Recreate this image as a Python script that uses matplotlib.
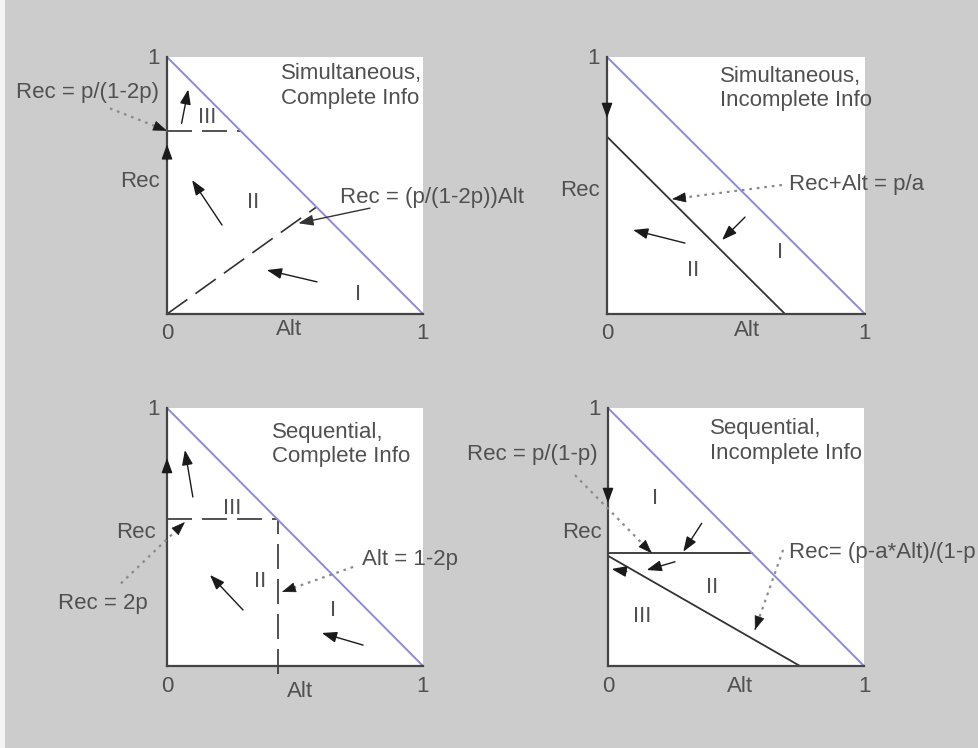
import matplotlib
matplotlib.use("Agg")
import matplotlib.pyplot as plt
from matplotlib.patches import Rectangle

plt.rcParams['font.family'] = ['Liberation Sans', 'DejaVu Sans']

BG = '#cccccc'
TXT = '#505050'
BLUE = '#8a8ae0'
DARK = '#333333'
DOT = '#8a8a8a'
FS = 16

# ---------------- data ----------------
titles = ["Simultaneous,\nComplete Info", "Simultaneous,\nIncomplete Info",
          "Sequential,\nComplete Info", "Sequential,\nIncomplete Info"]
budget_line_x = [0, 1]
budget_line_y = [1, 0]

# panel 1 (simultaneous, complete)
p1_level = 0.713          # Rec = p/(1-2p)
p1_slope = 0.713          # Rec = (p/(1-2p)) Alt
# panel 2 (simultaneous, incomplete)
p2_sum = 0.69             # Rec + Alt = p/a
# panel 3 (sequential, complete)
p3_rec = 0.57             # Rec = 2p
p3_alt = 0.435            # Alt = 1-2p
# panel 4 (sequential, incomplete)
p4_level = 0.437          # Rec = p/(1-p)
p4_start = 0.427          # Rec-intercept of Rec = (p - a*Alt)/(1-p)
p4_zero = 0.75            # Alt-intercept (p/a)

# motion arrows: (tail, tip) per panel
arrows1 = [((0, 0.60), (0, 0.66)), ((0.057, 0.742), (0.083, 0.874)),
           ((0.215, 0.346), (0.098, 0.521)), ((0.586, 0.125), (0.39, 0.171))]
arrows2 = [((0, 0.81), (0, 0.763)), ((0.302, 0.276), (0.101, 0.327)),
           ((0.535, 0.377), (0.446, 0.288))]
arrows3 = [((0, 0.75), (0, 0.806)), ((0.101, 0.655), (0.07, 0.837)),
           ((0.297, 0.217), (0.168, 0.353)), ((0.766, 0.081), (0.605, 0.128))]
arrows4 = [((0, 0.68), (0, 0.632)), ((0.366, 0.553), (0.294, 0.443)),
           ((0.262, 0.404), (0.151, 0.372)), ((0.073, 0.366), (0.014, 0.376))]

# labelled pointers: (text, text position, alignment, line tail, arrow tip, style)
notes1 = [("Rec = p/(1-2p)", (-0.3125, 0.86), 'center', (-0.223, 0.80), (0.0, 0.713), 'dot'),
          ("Rec = (p/(1-2p))Alt", (0.676, 0.455), 'left', (0.793, 0.412), (0.513, 0.353), 'solid')]
notes2 = [("Rec+Alt = p/a", (0.705, 0.502), 'left', (0.678, 0.502), (0.252, 0.447), 'dot')]
notes3 = [("Rec = 2p", (-0.25, 0.244), 'center', (-0.18, 0.32), (0.07, 0.558), 'dot'),
          ("Alt = 1-2p", (0.762, 0.411), 'left', (0.727, 0.384), (0.449, 0.287), 'dot')]
notes4 = [("Rec = p/(1-p)", (-0.297, 0.818), 'center', (-0.129, 0.74), (0.171, 0.437), 'dot'),
          ("Rec= (p-a*Alt)/(1-p", (0.706, 0.438), 'left', (0.684, 0.45), (0.574, 0.14), 'dot')]

regions1 = [("III", 0.156, 0.763), ("II", 0.337, 0.432), ("I", 0.747, 0.074)]
regions2 = [("I", 0.671, 0.241), ("II", 0.333, 0.171)]
regions3 = [("III", 0.254, 0.612), ("II", 0.363, 0.326), ("I", 0.65, 0.217)]
regions4 = [("I", 0.184, 0.651), ("II", 0.406, 0.306), ("III", 0.133, 0.19)]

title_pos = [(0.445, 0.975), (0.438, 0.965), (0.41, 0.945), (0.398, 0.96)]
rec_pos = [(-0.105, 0.514), (-0.105, 0.482), (-0.121, 0.519), (-0.10, 0.519)]
alt_pos = [(0.477, -0.062), (0.543, -0.066), (0.52, -0.10), (0.516, -0.078)]

# ---------------- figure ----------------
fig = plt.figure(figsize=(9.79, 7.48), dpi=100, facecolor=BG)
W, H = 979, 748
fig.patches.append(Rectangle((0, 0), 5 / W, 1, transform=fig.transFigure,
                             facecolor='#f4f4f4', edgecolor='none', zorder=-1))
boxes = [(167, 57, 256, 257), (607, 57, 258, 257), (167, 408, 256, 258), (608, 408, 256, 258)]
axes = []
for (x, y, w, h) in boxes:
    ax = fig.add_axes([x / W, 1 - (y + h) / H, w / W, h / H])
    ax.set_xlim(0, 1)
    ax.set_ylim(0, 1)
    ax.set_facecolor('white')
    for s in ['top', 'right']:
        ax.spines[s].set_visible(False)
    for s in ['left', 'bottom']:
        ax.spines[s].set_color('#444444')
        ax.spines[s].set_linewidth(1.6)
    ax.set_xticks([])
    ax.set_yticks([])
    axes.append(ax)

ah = dict(arrowstyle='-|>,head_length=0.6,head_width=0.22', color='#1a1a1a',
          lw=1.0, shrinkA=0, shrinkB=0, mutation_scale=15)


def common(ax, i, arrows, notes, regions):
    ax.plot(budget_line_x, budget_line_y, color=BLUE, lw=1.4, zorder=2)
    tx, ty = title_pos[i]
    ax.text(tx, ty, titles[i], ha='left', va='top', fontsize=FS, color=TXT,
            linespacing=1.2)
    ax.text(*rec_pos[i], "Rec", ha='center', va='center', fontsize=FS, color=TXT, clip_on=False)
    ax.text(*alt_pos[i], "Alt", ha='center', va='center', fontsize=FS, color=TXT, clip_on=False)
    yb = -0.074 if i < 2 else -0.081
    ax.text(0, yb, "0", ha='center', va='center', fontsize=FS, color=TXT, clip_on=False)
    ax.text(1, yb, "1", ha='center', va='center', fontsize=FS, color=TXT, clip_on=False)
    ax.text(-0.053, 0.995, "1", ha='center', va='center', fontsize=FS, color=TXT, clip_on=False)
    for (tail, tip) in arrows:
        ax.annotate('', xy=tip, xytext=tail, arrowprops=ah, annotation_clip=False)
    for (t, pos, ha, tail, tip, st) in notes:
        ax.text(pos[0], pos[1], t, ha=ha, va='center', fontsize=FS, color=TXT, clip_on=False)
        if st == 'dot':
            ax.plot([tail[0], tip[0]], [tail[1], tip[1]], color=DOT, lw=1.6,
                    linestyle=(0, (1.2, 2.2)), clip_on=False, zorder=3)
            ax.annotate('', xy=tip, xytext=(tip[0] - (tip[0] - tail[0]) * 0.06,
                                            tip[1] - (tip[1] - tail[1]) * 0.06),
                        arrowprops=dict(ah, lw=0.5), annotation_clip=False)
        else:
            ax.annotate('', xy=tip, xytext=tail, arrowprops=dict(ah, color='#333333'),
                        annotation_clip=False)
    for (t, x, y) in regions:
        ax.text(x, y, t, ha='center', va='center', fontsize=FS, color=TXT)


dash = (0, (15, 6))

# panel 1
ax = axes[0]
ax.plot([0, 1 - p1_level], [p1_level, p1_level], color=DARK, lw=1.2, linestyle=dash)
xe = 1 / (1 + p1_slope)
ax.plot([0, xe], [0, p1_slope * xe], color=DARK, lw=1.2, linestyle=dash)
common(ax, 0, arrows1, notes1, regions1)

# panel 2
ax = axes[1]
ax.plot([0, p2_sum], [p2_sum, 0], color=DARK, lw=1.3)
common(ax, 1, arrows2, notes2, regions2)

# panel 3
ax = axes[2]
ax.plot([0, 1 - p3_rec], [p3_rec, p3_rec], color=DARK, lw=1.2, linestyle=dash)
ax.plot([p3_alt, p3_alt], [-0.03, 1 - p3_alt], color=DARK, lw=1.2, linestyle=dash, clip_on=False)
common(ax, 2, arrows3, notes3, regions3)

# panel 4
ax = axes[3]
ax.plot([0, 1 - p4_level], [p4_level, p4_level], color=DARK, lw=1.3)
ax.plot([0, p4_zero], [p4_start, 0], color=DARK, lw=1.3)
common(ax, 3, arrows4, notes4, regions4)

fig.savefig("out.png", dpi=100, facecolor=BG)
